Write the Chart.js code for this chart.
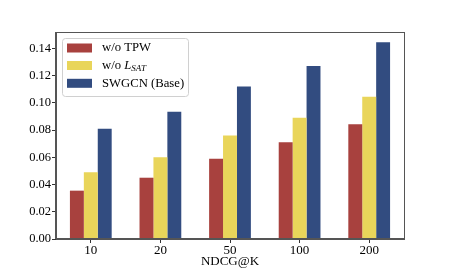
<!DOCTYPE html>
<html>
<head>
<meta charset="utf-8">
<script src="https://cdn.jsdelivr.net/npm/chart.js@4"></script>
<style>
  html, body { margin: 0; padding: 0; background: #fff; }
  #chart { display: block; }
</style>
</head>
<body>
<canvas id="chart" width="449" height="269"></canvas>
<script>
const categories = ["10", "20", "50", "100", "200"];
const woTPW = [0.0355, 0.045, 0.059, 0.071, 0.0843];
const woLSAT = [0.049, 0.060, 0.076, 0.089, 0.1045];
const swgcnBase = [0.081, 0.0935, 0.112, 0.127, 0.1445];
const yTicks = [0, 0.02, 0.04, 0.06, 0.08, 0.1, 0.12, 0.14];

const serif = "'Liberation Serif', 'DejaVu Serif', serif";
const colors = ["#a8413e", "#e9d55a", "#324c80"];

// box around the plot plus a legend with the italic L and subscript SAT
const framePlugin = {
  id: "frame",
  afterDraw(chart) {
    const ctx = chart.ctx;
    const a = chart.chartArea;
    ctx.save();
    ctx.strokeStyle = "#555";
    ctx.lineWidth = 1;
    ctx.strokeRect(Math.round(a.left) - 0.5, Math.round(a.top) + 0.5,
      Math.round(a.right - a.left) + 1, Math.round(a.bottom - a.top) - 1);

    // legend
    const lx = 62, ly = 38, lw = 126, lh = 58;
    ctx.fillStyle = "rgba(255,255,255,0.85)";
    ctx.strokeStyle = "#d0d0d0";
    ctx.beginPath();
    ctx.roundRect(lx + 0.5, ly + 0.5, lw, lh, 3);
    ctx.fill();
    ctx.stroke();

    const rows = [48, 65.5, 83.3];
    ctx.textBaseline = "middle";
    rows.forEach((y, i) => {
      ctx.fillStyle = colors[i];
      ctx.fillRect(67, y - 4.5, 25, 9);
    });
    ctx.fillStyle = "#000";
    ctx.font = "12.7px " + serif;
    ctx.fillText("w/o TPW", 102, rows[0]);
    ctx.fillText("w/o ", 102, rows[1]);
    let x = 102 + ctx.measureText("w/o ").width;
    ctx.font = "italic 12.7px " + serif;
    ctx.fillText("L", x, rows[1]);
    x += ctx.measureText("L").width;
    ctx.font = "italic 9px " + serif;
    ctx.fillText("SAT", x, rows[1] + 3);
    ctx.font = "12.7px " + serif;
    ctx.fillText("SWGCN (Base)", 102, rows[2]);
    ctx.restore();
  }
};

const ctx = document.querySelector("#chart").getContext("2d");

Chart.defaults.font.family = serif;
Chart.defaults.font.size = 12.5;
Chart.defaults.color = "#000";

const ndcgChart = new Chart(ctx, {
  type: "bar",
  data: {
    labels: categories,
    datasets: [
      { label: "w/o TPW", data: woTPW, backgroundColor: colors[0] },
      { label: "w/o L_SAT", data: woLSAT, backgroundColor: colors[1] },
      { label: "SWGCN (Base)", data: swgcnBase, backgroundColor: colors[2] },
    ],
  },
  options: {
    responsive: false,
    animation: false,
    events: [],
    categoryPercentage: 0.6,
    barPercentage: 1.0,
    layout: {
      padding: { top: 32, right: 45, bottom: 0, left: 0 },
    },
    plugins: {
      legend: { display: false },
      tooltip: { enabled: false },
    },
    scales: {
      x: {
        offset: true,
        grid: { drawOnChartArea: false, drawTicks: true, tickLength: 4, color: "#333", offset: false },
        border: { display: true, color: "#555" },
        ticks: { padding: 0, font: { size: 13 } },
        title: { display: true, text: "NDCG@K", font: { size: 13 }, padding: 0 },
        afterFit(axis) { axis.height = 30; },
      },
      y: {
        min: 0,
        max: 0.152,
        grid: { drawOnChartArea: false, drawTicks: true, tickLength: 4, color: "#333" },
        border: { display: true, color: "#555" },
        ticks: {
          padding: 1,
          font: { size: 12.5 },
          callback: (v) => v.toFixed(2),
        },
        afterBuildTicks(axis) {
          axis.ticks = yTicks.map((v) => ({ value: v }));
        },
        afterFit(axis) { axis.width = 56; },
      },
    },
  },
  plugins: [framePlugin],
});
</script>
</body>
</html>
